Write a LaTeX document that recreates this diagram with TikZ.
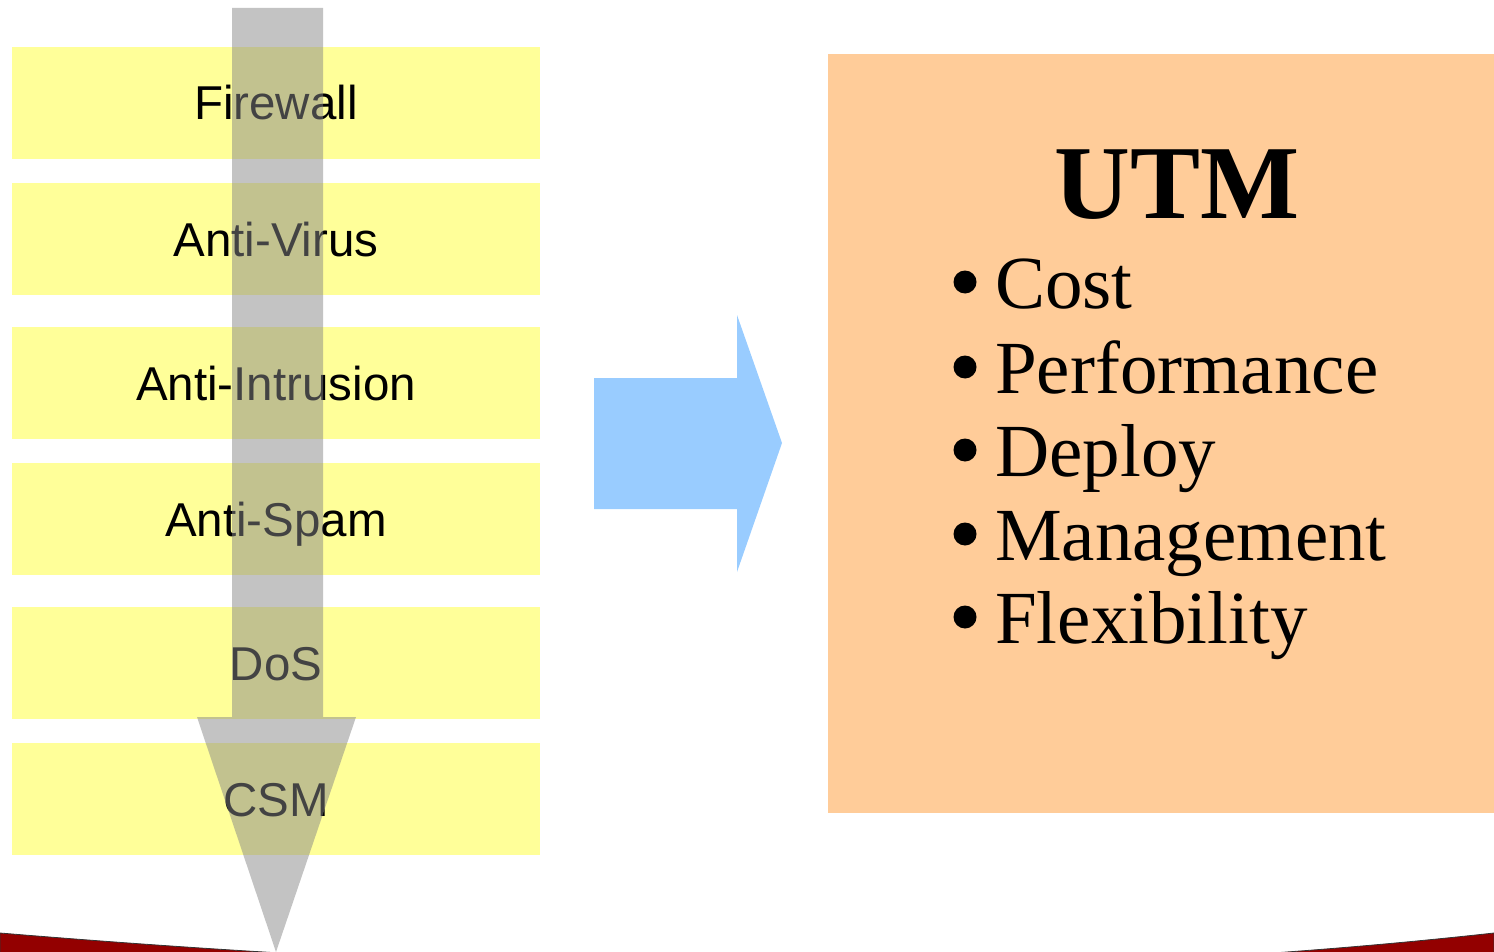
\documentclass[tikz,border=0pt]{standalone}
\usepackage{fontspec}
\setmainfont{Liberation Serif}
\newfontfamily\lsans{Liberation Sans}
\definecolor{layeryellow}{HTML}{FFFF99}
\definecolor{utmorange}{HTML}{FFCC99}
\definecolor{flowblue}{HTML}{99CCFF}
\definecolor{flowgray}{HTML}{878787}
\definecolor{baredred}{HTML}{930000}
\tikzset{
  layerbox/.style={fill=layeryellow, draw=none, minimum width=528pt, minimum height=112pt,
    inner sep=0pt, font=\lsans\fontsize{47.5}{56}\selectfont, text height=34pt, text depth=0pt},
  bulletitem/.style={anchor=base west, inner sep=0pt, font=\fontsize{75}{88}\selectfont},
  bulletdot/.style={circle, fill=black, draw=none, inner sep=0pt, minimum size=23pt},
}
\begin{document}
\begin{tikzpicture}[x=1pt,y=-1pt]
\useasboundingbox (0,0) rectangle (1494,952);
% bottom red band
\begin{scope}
\clip (0,0) rectangle (1494,952);
\fill[baredred, draw=black!80, line width=0.8pt] (0,933) .. controls (507,975) and (1005,987) .. (1494,933) -- (1494,1000) -- (0,1000) -- cycle;
\end{scope}
% layer boxes
\node[layerbox] (fw)  at (276,103) {Firewall};
\node[layerbox] (av)  at (276,239) {Anti-Virus};
\node[layerbox] (ai)  at (276,383) {Anti-Intrusion};
\node[layerbox] (as)  at (276,519) {Anti-Spam};
\node[layerbox] (dos) at (276,663) {DoS};
\node[layerbox] (csm) at (276,799) {CSM};
% gray flow arrow (semi-transparent, over the boxes)
\fill[flowgray, fill opacity=0.5] (232,8) -- (323,8) -- (323,717) -- (356,717) -- (276,952) -- (197,717) -- (232,717) -- cycle;
% blue arrow
\fill[flowblue] (594,378) -- (737,378) -- (737,315) -- (782,443) -- (737,572) -- (737,509) -- (594,509) -- cycle;
% UTM box
\node[fill=utmorange, draw=none, minimum width=666pt, minimum height=759pt, inner sep=0pt, anchor=north west] (utm) at (828,54) {};
\node[anchor=base, inner sep=0pt, font=\bfseries\fontsize{105}{120}\selectfont] (utmtitle) at (1177,219) {UTM};
\node[bulletdot] (b1) at (965,282) {};
\node[bulletdot] (b2) at (965,367) {};
\node[bulletdot] (b3) at (965,450) {};
\node[bulletdot] (b4) at (965,534) {};
\node[bulletdot] (b5) at (965,617) {};
\node[bulletitem] (i1) at (995,308) {Cost};
\node[bulletitem] (i2) at (995,393) {Performance};
\node[bulletitem] (i3) at (995,476) {Deploy};
\node[bulletitem] (i4) at (995,560) {Management};
\node[bulletitem] (i5) at (995,643) {Flexibility};
\end{tikzpicture}
\end{document}
